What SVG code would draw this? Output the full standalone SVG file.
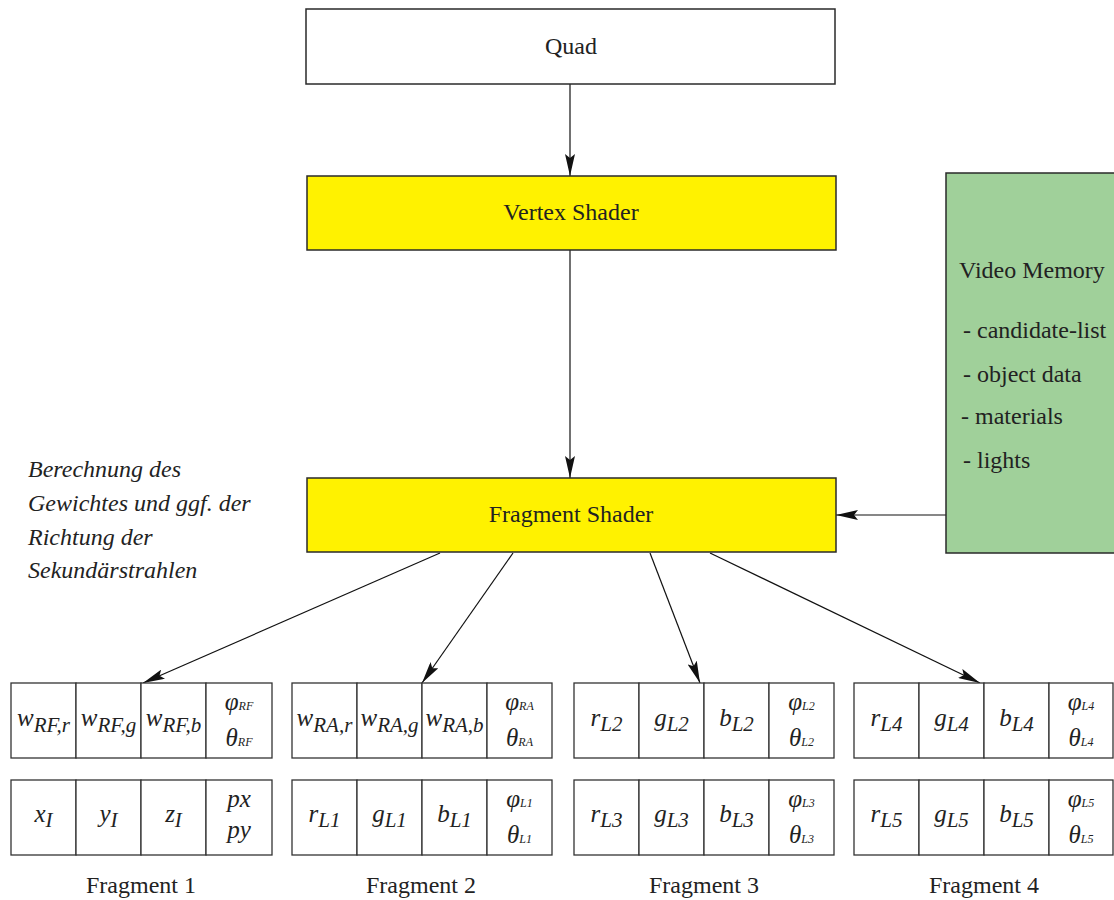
<svg xmlns="http://www.w3.org/2000/svg" width="1114" height="900" viewBox="0 0 1114 900">
<style>
.box{stroke:#2a2a2a;stroke-width:1.5}
.t{font-family:"Liberation Serif","Times New Roman",Times,serif;font-size:24px;fill:#222}
.c{text-anchor:middle}
.it{font-family:"Liberation Serif","Times New Roman",Times,serif;font-style:italic;fill:#222}
.n{font-size:24px}
.m{font-size:25px}
.s{font-size:21px}
.g{font-size:25px}
.gs{font-size:12px}
.cell{fill:#fff;stroke:#333;stroke-width:1.3}
.conn{stroke:#111;stroke-width:1.2;fill:none;marker-end:url(#ah)}
</style>
<defs>
<marker id="ah" viewBox="0 0 22 10" refX="22" refY="5" markerWidth="22" markerHeight="10" markerUnits="userSpaceOnUse" orient="auto">
<path d="M0,0 L22,5 L0,10 L4,5 z" fill="#111"/>
</marker>
</defs>
<rect width="1114" height="900" fill="#fff"/>

<g id="connectors">
<line class="conn" x1="570" y1="84" x2="570" y2="176"/>
<line class="conn" x1="570" y1="250" x2="570" y2="478"/>
<line class="conn" x1="946" y1="515" x2="836" y2="515"/>
<line class="conn" x1="440" y1="553" x2="143" y2="683"/>
<line class="conn" x1="513" y1="553" x2="422" y2="683"/>
<line class="conn" x1="650" y1="553" x2="700" y2="683"/>
<line class="conn" x1="710" y1="553" x2="980" y2="683"/>
</g>

<g id="quad">
<rect class="box" x="306" y="9" width="529" height="75" fill="#fff"/>
<text class="t c" x="571" y="54">Quad</text>
</g>

<g id="vertex-shader">
<rect class="box" x="307" y="176" width="529" height="74" fill="#FFF200"/>
<text class="t c" x="571" y="220">Vertex Shader</text>
</g>

<g id="fragment-shader">
<rect class="box" x="307" y="478" width="529" height="74" fill="#FFF200"/>
<text class="t c" x="571" y="522">Fragment Shader</text>
</g>

<g id="video-memory">
<rect class="box" x="946" y="173" width="170" height="380" fill="#A0D09A"/>
<text class="t" x="959" y="278">Video Memory</text>
<text class="t" x="963" y="338">- candidate-list</text>
<text class="t" x="963" y="382">- object data</text>
<text class="t" x="961" y="424">- materials</text>
<text class="t" x="963" y="468">- lights</text>
</g>

<g id="note">
<text class="it n" x="28" y="477">Berechnung des</text>
<text class="it n" x="28" y="511">Gewichtes und ggf. der</text>
<text class="it n" x="28" y="545">Richtung der</text>
<text class="it n" x="28" y="578">Sekundärstrahlen</text>
</g>

<g id="fragment1">
<rect class="cell" x="11" y="683" width="65" height="75"/>
<rect class="cell" x="76" y="683" width="65" height="75"/>
<rect class="cell" x="141" y="683" width="65" height="75"/>
<rect class="cell" x="206" y="683" width="66" height="75"/>
<rect class="cell" x="11" y="780" width="65" height="75"/>
<rect class="cell" x="76" y="780" width="65" height="75"/>
<rect class="cell" x="141" y="780" width="65" height="75"/>
<rect class="cell" x="206" y="780" width="66" height="75"/>
<text class="it c" x="43.5" y="726"><tspan class="m">w</tspan><tspan class="s" dy="6">RF,r</tspan></text>
<text class="it c" x="108.5" y="726"><tspan class="m">w</tspan><tspan class="s" dy="6">RF,g</tspan></text>
<text class="it c" x="173.5" y="726"><tspan class="m">w</tspan><tspan class="s" dy="6">RF,b</tspan></text>
<text class="it c" x="239" y="710"><tspan class="g">φ</tspan><tspan class="gs">RF</tspan></text>
<text class="it c" x="239" y="746"><tspan class="g">θ</tspan><tspan class="gs">RF</tspan></text>
<text class="it c" x="43.5" y="822"><tspan class="m">x</tspan><tspan class="s" dy="5">I</tspan></text>
<text class="it c" x="108.5" y="822"><tspan class="m">y</tspan><tspan class="s" dy="5">I</tspan></text>
<text class="it c" x="173.5" y="822"><tspan class="m">z</tspan><tspan class="s" dy="5">I</tspan></text>
<text class="it c m" x="239" y="807">px</text>
<text class="it c m" x="239" y="838">py</text>
<text class="t c" x="141" y="893">Fragment 1</text>
</g>

<g id="fragment2">
<rect class="cell" x="292" y="683" width="65" height="75"/>
<rect class="cell" x="357" y="683" width="65" height="75"/>
<rect class="cell" x="422" y="683" width="65" height="75"/>
<rect class="cell" x="487" y="683" width="65" height="75"/>
<rect class="cell" x="292" y="780" width="65" height="75"/>
<rect class="cell" x="357" y="780" width="65" height="75"/>
<rect class="cell" x="422" y="780" width="65" height="75"/>
<rect class="cell" x="487" y="780" width="65" height="75"/>
<text class="it c" x="324.5" y="726"><tspan class="m">w</tspan><tspan class="s" dy="6">RA,r</tspan></text>
<text class="it c" x="389.5" y="726"><tspan class="m">w</tspan><tspan class="s" dy="6">RA,g</tspan></text>
<text class="it c" x="454.5" y="726"><tspan class="m">w</tspan><tspan class="s" dy="6">RA,b</tspan></text>
<text class="it c" x="519.5" y="710"><tspan class="g">φ</tspan><tspan class="gs">RA</tspan></text>
<text class="it c" x="519.5" y="746"><tspan class="g">θ</tspan><tspan class="gs">RA</tspan></text>
<text class="it c" x="324.5" y="822"><tspan class="m">r</tspan><tspan class="s" dy="5">L1</tspan></text>
<text class="it c" x="389.5" y="822"><tspan class="m">g</tspan><tspan class="s" dy="5">L1</tspan></text>
<text class="it c" x="454.5" y="822"><tspan class="m">b</tspan><tspan class="s" dy="5">L1</tspan></text>
<text class="it c" x="519.5" y="807"><tspan class="g">φ</tspan><tspan class="gs">L1</tspan></text>
<text class="it c" x="519.5" y="843"><tspan class="g">θ</tspan><tspan class="gs">L1</tspan></text>
<text class="t c" x="421" y="893">Fragment 2</text>
</g>

<g id="fragment3">
<rect class="cell" x="574" y="683" width="65" height="75"/>
<rect class="cell" x="639" y="683" width="65" height="75"/>
<rect class="cell" x="704" y="683" width="65" height="75"/>
<rect class="cell" x="769" y="683" width="65" height="75"/>
<rect class="cell" x="574" y="780" width="65" height="75"/>
<rect class="cell" x="639" y="780" width="65" height="75"/>
<rect class="cell" x="704" y="780" width="65" height="75"/>
<rect class="cell" x="769" y="780" width="65" height="75"/>
<text class="it c" x="606.5" y="726"><tspan class="m">r</tspan><tspan class="s" dy="5">L2</tspan></text>
<text class="it c" x="671.5" y="726"><tspan class="m">g</tspan><tspan class="s" dy="5">L2</tspan></text>
<text class="it c" x="736.5" y="726"><tspan class="m">b</tspan><tspan class="s" dy="5">L2</tspan></text>
<text class="it c" x="801.5" y="710"><tspan class="g">φ</tspan><tspan class="gs">L2</tspan></text>
<text class="it c" x="801.5" y="746"><tspan class="g">θ</tspan><tspan class="gs">L2</tspan></text>
<text class="it c" x="606.5" y="822"><tspan class="m">r</tspan><tspan class="s" dy="5">L3</tspan></text>
<text class="it c" x="671.5" y="822"><tspan class="m">g</tspan><tspan class="s" dy="5">L3</tspan></text>
<text class="it c" x="736.5" y="822"><tspan class="m">b</tspan><tspan class="s" dy="5">L3</tspan></text>
<text class="it c" x="801.5" y="807"><tspan class="g">φ</tspan><tspan class="gs">L3</tspan></text>
<text class="it c" x="801.5" y="843"><tspan class="g">θ</tspan><tspan class="gs">L3</tspan></text>
<text class="t c" x="704" y="893">Fragment 3</text>
</g>

<g id="fragment4">
<rect class="cell" x="854" y="683" width="65" height="75"/>
<rect class="cell" x="919" y="683" width="65" height="75"/>
<rect class="cell" x="984" y="683" width="65" height="75"/>
<rect class="cell" x="1049" y="683" width="64" height="75"/>
<rect class="cell" x="854" y="780" width="65" height="75"/>
<rect class="cell" x="919" y="780" width="65" height="75"/>
<rect class="cell" x="984" y="780" width="65" height="75"/>
<rect class="cell" x="1049" y="780" width="64" height="75"/>
<text class="it c" x="886.5" y="726"><tspan class="m">r</tspan><tspan class="s" dy="5">L4</tspan></text>
<text class="it c" x="951.5" y="726"><tspan class="m">g</tspan><tspan class="s" dy="5">L4</tspan></text>
<text class="it c" x="1016.5" y="726"><tspan class="m">b</tspan><tspan class="s" dy="5">L4</tspan></text>
<text class="it c" x="1081" y="710"><tspan class="g">φ</tspan><tspan class="gs">L4</tspan></text>
<text class="it c" x="1081" y="746"><tspan class="g">θ</tspan><tspan class="gs">L4</tspan></text>
<text class="it c" x="886.5" y="822"><tspan class="m">r</tspan><tspan class="s" dy="5">L5</tspan></text>
<text class="it c" x="951.5" y="822"><tspan class="m">g</tspan><tspan class="s" dy="5">L5</tspan></text>
<text class="it c" x="1016.5" y="822"><tspan class="m">b</tspan><tspan class="s" dy="5">L5</tspan></text>
<text class="it c" x="1081" y="807"><tspan class="g">φ</tspan><tspan class="gs">L5</tspan></text>
<text class="it c" x="1081" y="843"><tspan class="g">θ</tspan><tspan class="gs">L5</tspan></text>
<text class="t c" x="984" y="893">Fragment 4</text>
</g>
</svg>
